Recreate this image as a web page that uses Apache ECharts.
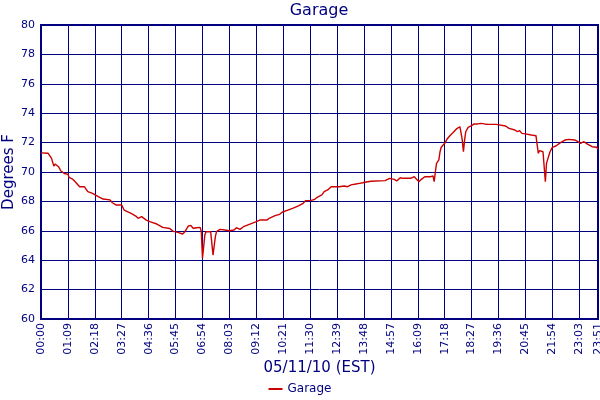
<!DOCTYPE html>
<html>
<head>
<meta charset="utf-8">
<script src="https://cdn.jsdelivr.net/npm/echarts@6/dist/echarts.min.js"></script>
<style>html,body{margin:0;padding:0;background:#fff}#c{width:600px;height:400px}</style>
</head>
<body>
<div id="c"></div>
<script>
// x = sample index (one sample every 3 min), y = degrees F
const sampleIdx = [0,6,9,11,12,15,17,20,23,24,27,30,33,37,40,44,49,53,59,61,64,69,71,77,81,
  83,86,90,93,99,104,110,113,117,121,123,126,128,130,133,136,137,138,140,141,145,147,149,150,153,157,161,165,
  167,170,173,178,184,187,193,195,200,204,206,211,215,220,224,226,230,234,236,240,242,245,248,252,
  255,259,262,265,269,272,275,278,282,294,298,302,304,307,309,316,319,321,323,325,328,333,335,336,337,338,340,341,342,345,347,350,352,355,358,359,360,361,362,363,365,368,370,373,376,379,382,389,390,397,400,405,407,409,411,414,419,423,424,425,426,427,429,431,432,433,435,437,440,444,448,451,456,459,461,464,467,471,475,476];
const tempF = [71.3,71.28,70.93,70.4,70.54,70.36,70.07,69.9,69.84,69.64,69.52,69.27,69.0,69.0,68.66,68.55,68.32,68.16,68.1,67.91,67.76,67.76,67.41,67.19,67.0,
  66.85,66.96,66.73,66.62,66.46,66.23,66.16,65.96,65.89,65.78,65.94,66.33,66.37,66.17,66.21,66.23,65.94,64.13,65.71,65.94,65.94,64.35,65.6,65.94,66.1,66.05,66.0,66.05,
  66.21,66.1,66.28,66.44,66.62,66.73,66.73,66.85,67.03,67.12,67.26,67.41,67.53,67.69,67.87,68.05,68.05,68.14,68.28,68.44,68.66,68.78,69.0,69.0,
  69.0,69.05,69.0,69.12,69.18,69.23,69.27,69.32,69.37,69.41,69.57,69.5,69.39,69.61,69.57,69.57,69.68,69.5,69.34,69.5,69.68,69.68,69.73,69.34,70.0,70.59,70.82,71.38,71.68,71.95,72.24,72.52,72.67,72.93,73.08,73.13,72.18,71.38,72.18,72.74,73.04,73.15,73.27,73.27,73.31,73.27,73.24,73.24,73.13,73.13,72.97,72.86,72.74,72.81,72.63,72.59,72.52,72.47,71.84,71.27,71.45,71.54,71.38,69.34,70.59,70.86,71.38,71.68,71.77,72.0,72.18,72.22,72.18,72.06,71.95,72.06,71.9,71.72,71.68,71.54];
const tickSamples = [0,23,46,69,92,115,138,161,184,207,230,253,276,299,322,345,368,391,414,437,460,476];
const tickLabels = ['00:00','01:09','02:18','03:27','04:36','05:45','06:54','08:03','09:12','10:21','11:30','12:39','13:48','14:57','16:09','17:18','18:27','19:36','20:45','21:54','23:03','23:51'];
const seriesName = 'Garage';

const navy = '#000080';
const font = '"DejaVu Sans", Verdana, sans-serif';
const labelMap = {};
tickSamples.forEach((s, i) => { labelMap[s] = tickLabels[i]; });
const data = sampleIdx.map((s, i) => [s, tempF[i]]);

const chart = echarts.init(document.getElementById('c'), null, {renderer: 'canvas'});
chart.setOption({
  backgroundColor: '#ffffff',
  animation: false,
  textStyle: {fontFamily: font},
  title: {
    text: 'Garage', left: 319, textAlign: 'center', top: 3, padding: 0,
    textStyle: {color: navy, fontSize: 16, fontWeight: 'normal', fontFamily: font}
  },
  legend: {
    bottom: 0, left: 'center', icon: 'rect', itemWidth: 14, itemHeight: 2, itemGap: 4,
    data: [seriesName],
    textStyle: {color: navy, fontSize: 12, fontFamily: font}
  },
  grid: {left: 41, right: 2, top: 25, bottom: 81, show: true, borderColor: navy, borderWidth: 2,
    containLabel: false, outerBoundsMode: 'none'},
  xAxis: {
    type: 'value', min: 0, max: 476, interval: 23,
    name: '05/11/10 (EST)', nameLocation: 'middle', nameGap: 42, nameMoveOverlap: false,
    nameTextStyle: {color: navy, fontSize: 15, fontFamily: font},
    axisLine: {show: false}, axisTick: {show: false},
    splitLine: {show: true, lineStyle: {color: navy, width: 1}},
    axisLabel: {
      rotate: 90, color: navy, fontSize: 11, fontFamily: font, margin: 4,
      showMinLabel: true, showMaxLabel: true,
      formatter: v => labelMap[v] !== undefined ? labelMap[v] : ''
    }
  },
  yAxis: {
    type: 'value', min: 60, max: 80, interval: 2,
    name: 'Degrees F', nameLocation: 'middle', nameGap: 24, nameMoveOverlap: false,
    nameTextStyle: {color: navy, fontSize: 15, fontFamily: font},
    axisLine: {show: false}, axisTick: {show: false},
    splitLine: {show: true, lineStyle: {color: navy, width: 1}},
    axisLabel: {color: navy, fontSize: 11, fontFamily: font, margin: 6}
  },
  series: [{
    name: seriesName, type: 'line', data: data, showSymbol: false, symbol: 'none',
    lineStyle: {color: '#cc0000', width: 1.4}, itemStyle: {color: '#cc0000'}
  }]
});
</script>
</body>
</html>
